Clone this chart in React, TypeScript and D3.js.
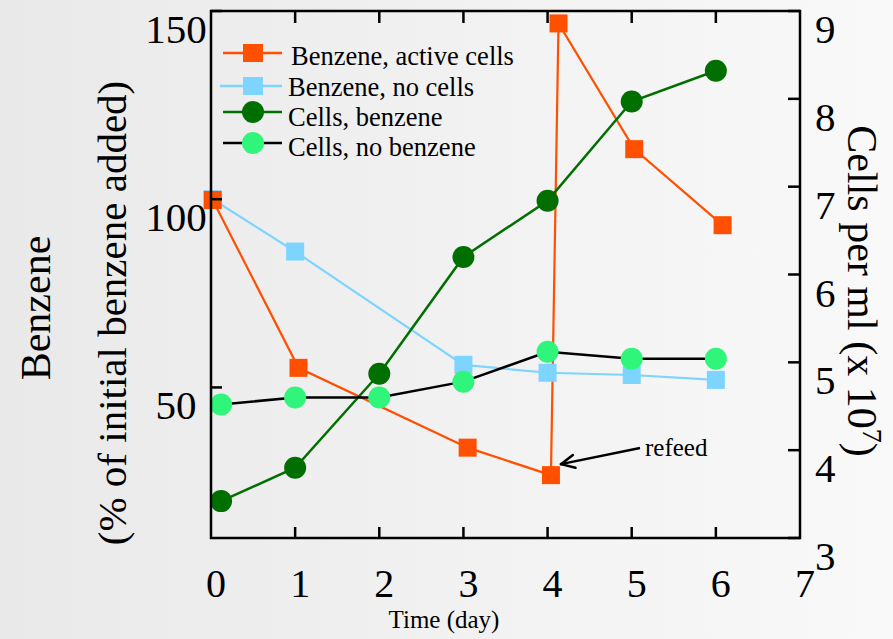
import * as d3 from "d3";

// benzene (% of initial benzene added), left axis
const activeDays = [0.02, 1.04, 3.05, 4.04, 4.13, 5.03, 6.08];
const benzeneActive = [99.8, 55.2, 34.0, 26.7, 146.7, 113.3, 93.1];
const noCellsDays = [0.02, 1, 3, 4, 5, 6];
const benzeneNoCells = [100, 86.1, 56.0, 53.9, 53.3, 52.0];

// cells per ml (x 10^7), right axis
const cellDays = [0.12, 1, 2, 3, 4, 5, 6];
const cellsBenzene = [3.42, 3.8, 4.87, 6.2, 6.84, 7.97, 8.32];
const cellsNoBenzene = [4.52, 4.6, 4.6, 4.78, 5.12, 5.04, 5.04];

const xTicks = [0, 1, 2, 3, 4, 5, 6, 7];
const leftTicks = [50, 100, 150];
const rightTicks = [3, 4, 5, 6, 7, 8, 9];

const legendLabels = [
  "Benzene, active cells",
  "Benzene, no cells",
  "Cells, benzene",
  "Cells, no benzene",
];

const W = 893;
const H = 639;
const LEFT = 211;
const RIGHT = 800;
const TOP = 11;
const BOTTOM = 538;
const FONT = "'Liberation Serif', 'Times New Roman', serif";

const ORANGE = "#ff4f00";
const BLUE = "#7dd4ff";
const DARK_GREEN = "#006f00";
const LIGHT_GREEN = "#2ff57a";

type Pt = [number, number];

export default function App() {
  const x = d3.scaleLinear().domain([0, 7]).range([LEFT, RIGHT]);
  const yLeft = d3.scaleLinear().domain([10, 150]).range([BOTTOM, TOP]);
  const yRight = d3.scaleLinear().domain([3, 9]).range([BOTTOM, TOP]);

  const line = d3.line<Pt>().x((d) => d[0]).y((d) => d[1]);

  const activePts: Pt[] = activeDays.map((d, i) => [x(d), yLeft(benzeneActive[i])]);
  const noCellsPts: Pt[] = noCellsDays.map((d, i) => [x(d), yLeft(benzeneNoCells[i])]);
  const cellsBPts: Pt[] = cellDays.map((d, i) => [x(d), yRight(cellsBenzene[i])]);
  const cellsNBPts: Pt[] = cellDays.map((d, i) => [x(d), yRight(cellsNoBenzene[i])]);

  const sq = 18;
  const r = 11;

  // refeed arrow points at the day-4 low of the active series
  const target = activePts[3];
  const tip: Pt = [target[0] + 10, target[1] - 11];
  const tail: Pt = [640, 448];
  const ang = Math.atan2(tail[1] - tip[1], tail[0] - tip[0]);
  const arm = 15;
  const head = [ang - 0.45, ang + 0.45].map(
    (a) => [tip[0] + arm * Math.cos(a), tip[1] + arm * Math.sin(a)] as Pt
  );

  const legendMarkY = [53, 86, 112, 143];
  const legendTextY = [65, 96, 126, 156];

  return (
    <svg
      width={W}
      height={H}
      style={{ position: "absolute", left: 0, top: 0 }}
      fontFamily={FONT}
    >
      <defs>
        <linearGradient id="bg" x1="0" x2="1" y1="0" y2="0">
          <stop offset="0%" stopColor="#e9e9e9" />
          <stop offset="100%" stopColor="#f9f9f9" />
        </linearGradient>
      </defs>
      <rect width={W} height={H} fill="url(#bg)" />

      {/* benzene, active cells: line below the no-cells series */}
      <path d={line(activePts) ?? ""} fill="none" stroke={ORANGE} strokeWidth={2.2} />

      {/* benzene, no cells */}
      <path d={line(noCellsPts) ?? ""} fill="none" stroke={BLUE} strokeWidth={2.2} />
      {noCellsPts.map((p, i) => (
        <rect key={i} x={p[0] - sq / 2} y={p[1] - sq / 2} width={sq} height={sq} fill={BLUE} />
      ))}

      {activePts.map((p, i) => (
        <rect key={i} x={p[0] - sq / 2} y={p[1] - sq / 2} width={sq} height={sq} fill={ORANGE} />
      ))}

      {/* cells, benzene */}
      <path d={line(cellsBPts) ?? ""} fill="none" stroke={DARK_GREEN} strokeWidth={2.5} />
      {cellsBPts.map((p, i) => (
        <circle key={i} cx={p[0]} cy={p[1]} r={r} fill={DARK_GREEN} />
      ))}

      {/* cells, no benzene */}
      <path d={line(cellsNBPts) ?? ""} fill="none" stroke="#000" strokeWidth={2.5} />
      {cellsNBPts.map((p, i) => (
        <circle key={i} cx={p[0]} cy={p[1]} r={r} fill={LIGHT_GREEN} />
      ))}

      {/* frame */}
      <rect
        x={LEFT}
        y={TOP}
        width={RIGHT - LEFT}
        height={BOTTOM - TOP}
        fill="none"
        stroke="#000"
        strokeWidth={2.5}
      />

      {/* x ticks, inward on top and bottom */}
      {xTicks.slice(1, -1).map((t) => (
        <g key={t}>
          <line x1={x(t)} x2={x(t)} y1={BOTTOM} y2={BOTTOM - 11} stroke="#000" strokeWidth={2.5} />
          <line x1={x(t)} x2={x(t)} y1={TOP} y2={TOP + 12} stroke="#000" strokeWidth={2.5} />
        </g>
      ))}
      {xTicks.map((t) => (
        <text key={t} x={x(t) + 5} y={597} fontSize={40} textAnchor="middle">
          {t}
        </text>
      ))}
      <text x={444} y={628} fontSize={25} textAnchor="middle">
        Time (day)
      </text>

      {/* left axis */}
      {leftTicks.map((t) => (
        <g key={t}>
          <line x1={LEFT} x2={LEFT + 11} y1={yLeft(t)} y2={yLeft(t)} stroke="#000" strokeWidth={2.5} />
          <text x={176} y={yLeft(t) + 32} fontSize={41} textAnchor="middle">
            {t}
          </text>
        </g>
      ))}
      <text transform="translate(50,308) rotate(-90)" fontSize={42} textAnchor="middle">
        Benzene
      </text>
      <text transform="translate(126,313) rotate(-90)" fontSize={41} textAnchor="middle">
        (% of initial benzene added)
      </text>

      {/* right axis */}
      {rightTicks.map((t) => (
        <g key={t}>
          <line x1={RIGHT} x2={RIGHT - 12} y1={yRight(t)} y2={yRight(t)} stroke="#000" strokeWidth={2.5} />
          <text x={815} y={yRight(t) + 32} fontSize={41}>
            {t}
          </text>
        </g>
      ))}
      <text transform="translate(848,291) rotate(90)" fontSize={42} textAnchor="middle">
        Cells per ml (x 10
        <tspan fontSize={28} dy={-15}>
          7
        </tspan>
        <tspan dy={15}>)</tspan>
      </text>

      {/* legend */}
      {legendLabels.map((label, i) => {
        const y = legendMarkY[i];
        const lineColor = [ORANGE, BLUE, DARK_GREEN, "#000"][i];
        const fill = [ORANGE, BLUE, DARK_GREEN, LIGHT_GREEN][i];
        return (
          <g key={label}>
            <line x1={i === 1 ? 220 : 223} x2={282} y1={y} y2={y} stroke={lineColor} strokeWidth={2.5} />
            {i < 2 ? (
              <rect x={253 - sq / 2 - 1} y={y - sq / 2} width={sq + 2} height={sq} fill={fill} />
            ) : (
              <circle cx={253} cy={y} r={r} fill={fill} />
            )}
            <text x={i === 0 ? 291 : 288} y={legendTextY[i]} fontSize={26.5}>
              {label}
            </text>
          </g>
        );
      })}

      {/* refeed annotation */}
      <line x1={tail[0]} y1={tail[1]} x2={tip[0]} y2={tip[1]} stroke="#000" strokeWidth={2.5} />
      {head.map((h, i) => (
        <line key={i} x1={tip[0]} y1={tip[1]} x2={h[0]} y2={h[1]} stroke="#000" strokeWidth={2.5} strokeLinecap="round" />
      ))}
      <text x={645} y={456} fontSize={25}>
        refeed
      </text>
    </svg>
  );
}
